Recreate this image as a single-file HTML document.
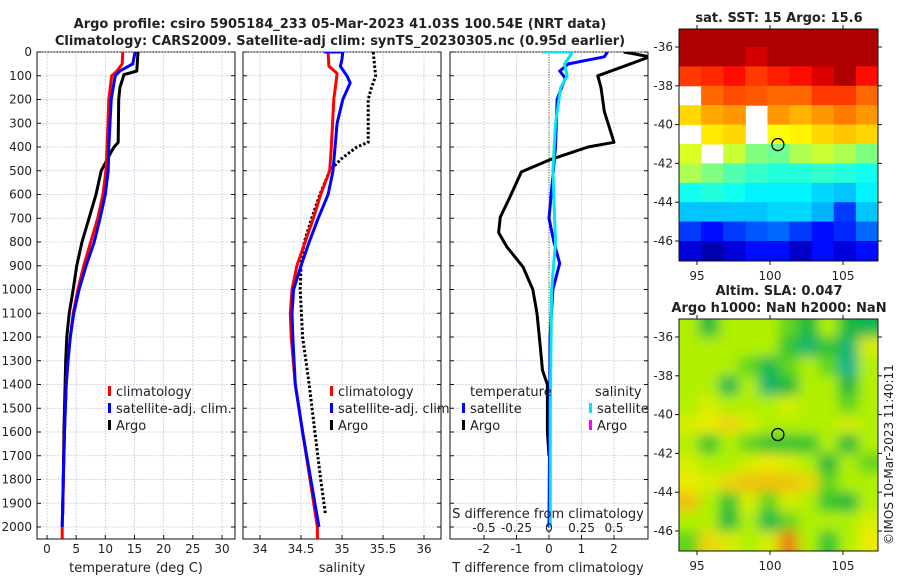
<!DOCTYPE html>
<html><head><meta charset="utf-8"><style>
body{margin:0;background:#fff;}
svg text{font-family:"DejaVu Sans","Liberation Sans",sans-serif;fill:#222;}
</style></head><body>
<svg id="fig" width="900" height="580" viewBox="0 0 900 580" xmlns="http://www.w3.org/2000/svg">
<defs>
<filter id="blur" filterUnits="userSpaceOnUse" x="640" y="280" width="280" height="300"><feGaussianBlur stdDeviation="6"/></filter>
<clipPath id="c1"><rect x="37" y="52" width="198" height="487"/></clipPath>
<clipPath id="c2"><rect x="243" y="52" width="198" height="487"/></clipPath>
<clipPath id="c3"><rect x="450" y="52" width="198" height="487"/></clipPath>
<clipPath id="cm1"><rect x="679" y="29" width="199" height="232"/></clipPath>
<clipPath id="cm2"><rect x="679" y="319" width="199" height="232"/></clipPath>
</defs>
<text x="340" y="28" text-anchor="middle" font-size="13" font-weight="bold">Argo profile: csiro 5905184_233 05-Mar-2023 41.03S 100.54E (NRT data)</text>
<text x="340" y="45" text-anchor="middle" font-size="13" font-weight="bold">Climatology: CARS2009. Satellite-adj clim: synTS_20230305.nc (0.95d earlier)</text>
<text x="779" y="22" text-anchor="middle" font-size="13" font-weight="bold">sat. SST: 15 Argo: 15.6</text>
<text x="779" y="295" text-anchor="middle" font-size="13" font-weight="bold">Altim. SLA: 0.047</text>
<text x="779" y="312" text-anchor="middle" font-size="13" font-weight="bold">Argo h1000: NaN h2000: NaN</text>
<text transform="translate(893,545) rotate(-90)" font-size="12">©IMOS 10-Mar-2023 11:40:11</text>
<text x="88" y="512" font-size="11">Argo Australia</text>
<text x="88" y="526" font-size="11">PI: Susan Wijffels</text>
<g id="g"></g>
</svg>
<script>
// ---------- data ----------
const depthTicks=[0,100,200,300,400,500,600,700,800,900,1000,1100,1200,1300,1400,1500,1600,1700,1800,1900,2000];
const tTicks=[0,5,10,15,20,25,30];
const sTicks=[34,34.5,35,35.5,36];
const sTickLabels=["34","34.5","35","35.5","36"];
const dTicks=[-2,-1,0,1,2];
const dsTicks=[-0.5,-0.25,0,0.25,0.5];
const dsTickLabels=["-0.5","-0.25","0","0.25","0.5"];

const climTDepth=[0,50,80,100,200,400,500,600,700,800,900,1000,1100,1200,1300,1400,1600,1800,2000,2050];
const climT=[13.0,12.9,12.0,11.1,10.6,10.3,10.1,9.6,8.7,7.5,6.3,5.3,4.5,4.0,3.6,3.3,3.0,2.8,2.6,2.6];
const satTDepth=[0,50,80,100,200,400,500,600,700,800,900,1000,1100,1200,1300,1400,1600,1800,2000];
const satT=[15.1,14.7,12.5,11.7,11.0,10.6,10.5,10.0,9.1,8.1,6.7,5.5,4.6,4.0,3.6,3.3,3.0,2.8,2.6];
const argoTDepth=[0,80,95,150,200,380,400,420,500,600,700,800,900,1000,1100,1200,1300,1400,1600,1800,1950];
const argoT=[15.6,15.4,13.2,12.5,12.3,12.2,11.5,11.0,9.3,8.4,7.2,6.0,5.1,4.5,3.8,3.4,3.2,3.1,2.9,2.8,2.7];

const climSDepth=[0,60,90,200,400,500,600,700,800,900,1000,1100,1200,1400,1600,1800,2000,2050];
const climS=[34.83,34.84,34.94,34.90,34.87,34.85,34.74,34.65,34.55,34.45,34.39,34.37,34.38,34.43,34.52,34.61,34.70,34.70];
const satSDepth=[0,0,30,60,100,130,200,300,500,600,700,800,900,1000,1100,1200,1400,1600,1800,2000];
const satS=[34.78,35.01,35.00,34.98,35.06,35.10,35.01,34.94,34.89,34.83,34.71,34.60,34.50,34.41,34.39,34.40,34.43,34.52,34.62,34.72];
const argoSDepth=[0,100,150,200,380,400,450,500,600,700,800,900,1000,1200,1400,1600,1800,1950];
const argoS=[35.38,35.41,35.36,35.32,35.32,35.18,34.99,34.85,34.73,34.63,34.54,34.50,34.49,34.52,34.60,34.67,34.74,34.80];

const dTDepth=[0,20,100,150,250,380,400,455,505,610,695,760,820,905,1000,1100,1225,1340,1400,1500,1600,1700];
const argoDT=[2.3,3.1,1.5,1.6,1.7,2.0,1.2,0.0,-0.85,-1.2,-1.5,-1.55,-1.3,-0.8,-0.5,-0.37,-0.28,-0.2,-0.05,-0.05,-0.05,0.0];
const satDTDepth=[0,20,50,80,110,200,400,700,800,890,1000,1200,1600,2000];
const satDT=[1.8,1.7,0.6,0.33,0.5,0.25,0.2,0.0,0.15,0.33,0.12,0.03,0.02,0.0];
const dSDepth=[0,0,10,50,100,150,300,500,800,1000,1500,2000];
const satDS=[-0.05,0.17,0.17,0.12,0.14,0.09,0.05,0.03,0.05,0.02,0.01,0.01];

// SST map (deg C), rows lat -35..-47, cols lon 93.8..107.4; null = no data
const sstRows=[-35,-36,-37,-38,-39,-40,-41,-42,-43,-44,-45,-46];
const sstGrid=[
[20,20,20,20,20,20,20,20,20],
[20,20,20,19.6,20,20,20,20,20],
[18.5,18.7,19,18.5,18.8,19,19.5,20,19],
[null,18,18.3,18.2,18,18,18.5,18.5,18],
[16.8,17.3,17.5,null,17.5,17.2,17.5,17.8,17.5],
[null,16.6,16.8,null,16.3,16.5,16.8,17,16.8],
[16,null,15.8,15,14.8,15.5,15.8,15.5,15],
[15.5,15,14.5,14.2,14,14,14.2,14,13.8],
[13.8,14,13.8,13.5,13.5,13.5,13.2,13,13.5],
[13,13,13,13,13.2,13.2,12.8,11.5,13],
[11.5,11,11.5,11.8,12,11.5,11,11.3,12],
[10.5,10,10.5,11,11,10.3,11,10.5,11]];
// SLA map (m)
const slaGrid=[
[0,-0.1,0,0,0,-0.05,-0.1,0,-0.1,-0.12],
[0,0,0,0,0,-0.08,-0.15,-0.08,-0.15,0.05],
[0,0,0,-0.05,-0.12,-0.05,0,-0.05,-0.18,0],
[0,0,-0.12,0,-0.15,-0.1,0,0,-0.1,0],
[0,0.05,0,0,0,0.05,0,0,-0.05,0],
[0.05,0.08,0.1,0.05,0,0,0,0,0.05,0],
[0,-0.08,0,-0.05,-0.08,-0.08,-0.08,0,-0.1,0],
[0.05,0,0,0.05,0.08,0.05,0,-0.1,0,-0.05],
[0.08,0.05,0.1,0.12,0.12,0.12,0.1,-0.05,0,0],
[0.12,0,-0.08,0.05,-0.05,0.05,0,-0.08,-0.1,0],
[0,0,-0.1,0,-0.12,-0.05,0,0,0,0.05],
[-0.05,0.1,0.05,0,0.05,0.18,0,-0.08,0,0.08]];
const mapLonTicks=[95,100,105];
const mapLatTicks=[-36,-38,-40,-42,-44,-46];
const argoLon=100.54, argoLat=-41.03;

// ---------- helpers ----------
const NS="http://www.w3.org/2000/svg";
const G=document.getElementById('g');
function mk(tag,attrs,parent){const e=document.createElementNS(NS,tag);for(const k in attrs)e.setAttribute(k,attrs[k]);(parent||G).appendChild(e);return e;}
const yD=d=>52+d*0.2375;
const xT=v=>47+v*5.833;
const xS=v=>260+(v-34)*82;
const xDT=v=>549+v*32.5;
const xDS=v=>549+v*130;
const TOP=52,BOT=539;

function panel(x0,name){
  const r=mk('rect',{x:x0,y:TOP,width:198,height:BOT-TOP,fill:'#fff',stroke:'#111','stroke-width':1});
  
  
  depthTicks.forEach(d=>{
    const y=yD(d);
    const l=mk('line',{x1:x0,x2:x0+198,y1:y,y2:y,stroke:'#b8bcd8','stroke-width':0.8,'stroke-dasharray':'1.5,1.5'});
    
    
    mk('line',{x1:x0,x2:x0+4,y1:y,y2:y,stroke:'#111'});
    mk('line',{x1:x0+194,x2:x0+198,y1:y,y2:y,stroke:'#111'});
  });
}
function vgrid(vals,fx,name,labels,ly){
  vals.forEach((v,i)=>{
    const x=fx(v);
    const l=mk('line',{x1:x,x2:x,y1:TOP,y2:BOT,stroke:'#b8bcd8','stroke-width':0.8,'stroke-dasharray':'1.5,1.5'});
    
    
    mk('line',{x1:x,x2:x,y1:BOT-4,y2:BOT,stroke:'#111'});
    if(labels){const t=mk('text',{x:x,y:ly,'text-anchor':'middle','font-size':12});t.textContent=labels[i];
      
      }
  });
}
function line(ds,vs,fx,color,w,name,clip,dash){
  const pts=ds.map((d,i)=>fx(vs[i]).toFixed(1)+','+yD(d).toFixed(1)).join(' ');
  const a={points:pts,fill:'none',stroke:color,'stroke-width':w,'stroke-linejoin':'round','clip-path':'url(#'+clip+')'};
  if(dash)a['stroke-dasharray']=dash;
  const p=mk('polyline',a);
  
  
}
function legend(x,y,color,label,name){
  mk('rect',{x:x,y:y-6,width:3,height:10,fill:color});
  const t=mk('text',{x:x+8,y:y+4,'font-size':13});t.textContent=label;
  
  
}

// ---------- panel 1: temperature ----------
panel(37,'temp-panel');
vgrid(tTicks,xT,'temp',tTicks.map(String),553);
depthTicks.forEach(d=>{const t=mk('text',{x:32,y:yD(d)+4,'text-anchor':'end','font-size':12});t.textContent=d;
  
  });
line(argoTDepth,argoT,xT,'#000',3,'temp-argo-line','c1');
line(climTDepth,climT,xT,'#ff0000',3,'temp-climatology-line','c1');
line(satTDepth,satT,xT,'#0000ff',3,'temp-satellite-line','c1');
legend(108,392,'#ff0000','climatology','temp-legend-climatology');
legend(108,409,'#0000ff','satellite-adj. clim.','temp-legend-satellite');
legend(108,426,'#000','Argo','temp-legend-argo');
{const t=mk('text',{x:136,y:572,'text-anchor':'middle','font-size':13});t.textContent='temperature (deg C)';
 }

// ---------- panel 2: salinity ----------
panel(243,'sal-panel');
vgrid(sTicks,xS,'sal',sTickLabels,553);
line(argoSDepth,argoS,xS,'#000',3,'sal-argo-line','c2','2.5,2');
line(climSDepth,climS,xS,'#ff0000',3,'sal-climatology-line','c2');
line(satSDepth,satS,xS,'#0000ff',3,'sal-satellite-line','c2');
legend(330,392,'#ff0000','climatology','sal-legend-climatology');
legend(330,409,'#0000ff','satellite-adj. clim.','sal-legend-satellite');
legend(330,426,'#000','Argo','sal-legend-argo');
{const t=mk('text',{x:342,y:572,'text-anchor':'middle','font-size':13});t.textContent='salinity';
 }

// ---------- panel 3: differences ----------
panel(450,'diff-panel');
vgrid(dTicks,xDT,'diff',dTicks.map(String),553);
{const z=mk('line',{x1:xDT(0),x2:xDT(0),y1:TOP,y2:BOT,stroke:'#445533','stroke-width':1,'stroke-dasharray':'1,1.5'});
 }
line(dTDepth,argoDT,xDT,'#000',3,'tdiff-argo-line','c3');
line(satDTDepth,satDT,xDT,'#0000ff',3,'tdiff-satellite-line','c3');
line(dSDepth,satDS,xDS,'#00e5ee',3,'sdiff-satellite-line','c3');
dsTicks.forEach((v,i)=>{const t=mk('text',{x:xDS(v),y:532,'text-anchor':'middle','font-size':12});t.textContent=dsTickLabels[i];
  });
{const t=mk('text',{x:548,y:518,'text-anchor':'middle','font-size':13});t.textContent='S difference from climatology';
 }
{const t=mk('text',{x:548,y:572,'text-anchor':'middle','font-size':13});t.textContent='T difference from climatology';
 }
{const t=mk('text',{x:470,y:396,'font-size':13});t.textContent='temperature';
 }
{const t=mk('text',{x:595,y:396,'font-size':13});t.textContent='salinity';
 }
legend(462,409,'#0000ff','satellite','diff-legend-t-satellite');
legend(462,426,'#000','Argo','diff-legend-t-argo');
legend(589,409,'#00e5ee','satellite','diff-legend-s-satellite');
legend(589,426,'#ff00ff','Argo','diff-legend-s-argo');

// ---------- maps ----------
const xLon=lon=>697+(lon-95)*14.6;
const yLat1=lat=>47+(-36-lat)*19.4;
function jet(t){t=Math.max(0,Math.min(1,t));const c=v=>Math.round(255*Math.max(0,Math.min(1,v)));
  return 'rgb('+c(1.5-Math.abs(4*t-3))+','+c(1.5-Math.abs(4*t-2))+','+c(1.5-Math.abs(4*t-1))+')';}
const slaStops=[[-0.2,[0,176,160]],[-0.1,[20,185,60]],[0,[176,240,0]],[0.08,[236,236,0]],[0.15,[240,160,30]],[0.2,[230,110,20]]];
function slaCol(v){for(let i=1;i<slaStops.length;i++){if(v<=slaStops[i][0]||i==slaStops.length-1){const a=slaStops[i-1],b=slaStops[i];let f=(v-a[0])/(b[0]-a[0]);f=Math.max(0,Math.min(1,f));
  return 'rgb('+a[1].map((c,k)=>Math.round(c+(b[1][k]-c)*f)).join(',')+')';}}}

function mapFrame(top,name,clip){
  const x0=679,w=199,h=232;
  const g1=mk('g',{'clip-path':'url(#'+clip+')'});
  return {g:g1,finish:(yl,lonLabY)=>{
    const f=mk('rect',{x:x0,y:top,width:w,height:h,fill:'none',stroke:'#111'});
    
    mapLatTicks.forEach(lat=>{const y=yl(lat);
      mk('line',{x1:x0-4,x2:x0,y1:y,y2:y,stroke:'#111'});mk('line',{x1:x0+w,x2:x0+w+4,y1:y,y2:y,stroke:'#111'});
      const t=mk('text',{x:x0-6,y:y+4,'text-anchor':'end','font-size':12});t.textContent=lat;
      });
    mapLonTicks.forEach(lon=>{const x=xLon(lon);
      mk('line',{x1:x,x2:x,y1:top+h,y2:top+h+4,stroke:'#111'});mk('line',{x1:x,x2:x,y1:top-4,y2:top,stroke:'#111'});
      const t=mk('text',{x:x,y:lonLabY,'text-anchor':'middle','font-size':12});t.textContent=lon;
      });
    const c=mk('circle',{cx:xLon(argoLon),cy:yl(argoLat),r:6,fill:'none',stroke:'#000','stroke-width':1.3});
    
  }};
}
// SST
{const m=mapFrame(29,'sst-map','cm1');
 mk('rect',{x:679,y:29,width:199,height:232,fill:'#fff'},m.g);
 const cw=199/sstGrid[0].length;
 sstGrid.forEach((row,ri)=>row.forEach((v,ci)=>{
   if(v===null)return;
   const r=mk('rect',{x:679+ci*cw,y:yLat1(sstRows[ri]),width:cw+0.5,height:19.9,fill:jet((v-9.5)/11)},m.g);
   
   
 }));
 m.finish(yLat1,280);}
// SLA
{const yLat2=lat=>yLat1(lat)+290;
 const m=mapFrame(319,'sla-map','cm2');
 mk('rect',{x:679,y:319,width:199,height:232,fill:slaCol(0)},m.g);
 const bg=mk('g',{filter:'url(#blur)'},m.g);
 const cw=199/slaGrid[0].length;
 slaGrid.forEach((row,ri)=>row.forEach((v,ci)=>{
   const r=mk('rect',{x:679+ci*cw-(ci==0?15:0),y:yLat2(sstRows[ri])-(ri==0?15:0),width:cw+(ci==0||ci==row.length-1?15.5:0.5),height:19.9+(ri==0||ri==slaGrid.length-1?15:0),fill:slaCol(v)},bg);
   
   
 }));
 m.finish(yLat2,570);}
</script>
</body></html>
